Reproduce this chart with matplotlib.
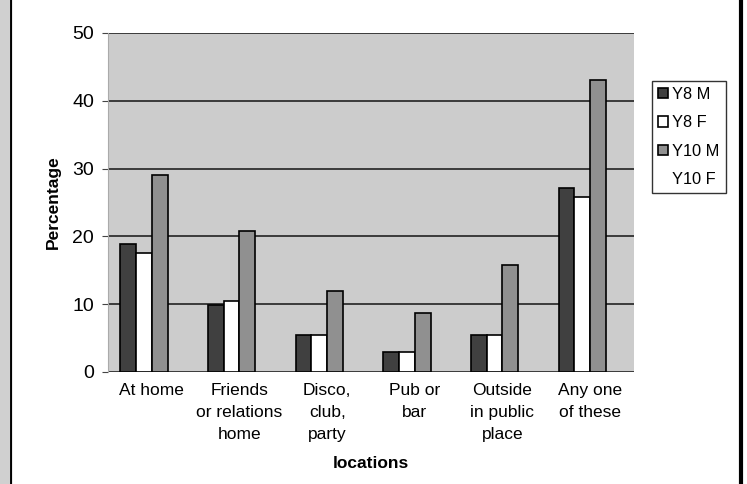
import matplotlib.pyplot as plt
import numpy as np
from matplotlib.lines import Line2D

plt.rcParams['font.family'] = ['Liberation Sans', 'DejaVu Sans']

categories = ['At home', 'Friends\nor relations\nhome', 'Disco,\nclub,\nparty',
              'Pub or\nbar', 'Outside\nin public\nplace', 'Any one\nof these']
y8_m = [18.9, 9.9, 5.5, 2.9, 5.5, 27.1]
y8_f = [17.6, 10.5, 5.5, 2.9, 5.5, 25.8]
y10_m = [29.1, 20.8, 11.9, 8.7, 15.8, 43.1]
y10_f = [0, 0, 0, 0, 0, 0]
series = ['Y8 M', 'Y8 F', 'Y10 M', 'Y10 F']

fig = plt.figure(figsize=(7.47, 4.84), dpi=100)
ax = fig.add_axes([108/747, 1-372/484, 526/747, 339/484])
ax.set_facecolor('#cccccc')

x = np.arange(len(categories))
w = 0.18
colors = ['#404040', '#ffffff', '#909090', 'none']
edges = ['black', 'black', 'black', 'none']
for i, (vals, c, e, lab) in enumerate(zip([y8_m, y8_f, y10_m, y10_f], colors, edges, series)):
    ax.bar(x + (i - 1.5) * w, vals, w, color=c, edgecolor=e, linewidth=1.2, label=lab, zorder=3)

ax.set_xlim(-0.5, 5.5)
ax.set_ylim(0, 50)
ax.set_yticks([0, 10, 20, 30, 40, 50])
ax.yaxis.grid(True, color='#222222', linewidth=1.2, zorder=1)
ax.set_axisbelow(True)
for s in ['top', 'right', 'bottom']:
    ax.spines[s].set_visible(False)
ax.spines['left'].set_color('#aaaaaa')
ax.set_xticks(x)
ax.set_xticklabels(categories, fontsize=12.5, linespacing=1.58, va='top')
ax.tick_params(axis='x', length=0, pad=8)
ax.tick_params(axis='y', labelsize=14, length=4, color='#444444', pad=6)
ax.set_ylabel('Percentage', fontsize=12.5, fontweight='bold', labelpad=8)
ax.set_xlabel('locations', fontsize=12.5, fontweight='bold', labelpad=10)

leg = ax.legend(loc='upper left', bbox_to_anchor=(652/747, 1-81/484), bbox_transform=fig.transFigure,
                fontsize=11.8, frameon=True, fancybox=False, handlelength=0.6, handleheight=0.6,
                handletextpad=0.3, borderpad=0.35, labelspacing=0.82, borderaxespad=0)
leg.get_frame().set_edgecolor('black')
leg.get_frame().set_linewidth(1.0)

# page frame lines
fig.add_artist(Line2D([10/747, 10/747], [0, 1], color='black', linewidth=3, transform=fig.transFigure))
fig.add_artist(Line2D([741/747, 741/747], [0, 1], color='black', linewidth=3, transform=fig.transFigure))
fig.add_artist(Line2D([4/747, 4/747], [0, 1], color='#d0d0d0', linewidth=8, transform=fig.transFigure))

fig.savefig('out.png', dpi=100)
